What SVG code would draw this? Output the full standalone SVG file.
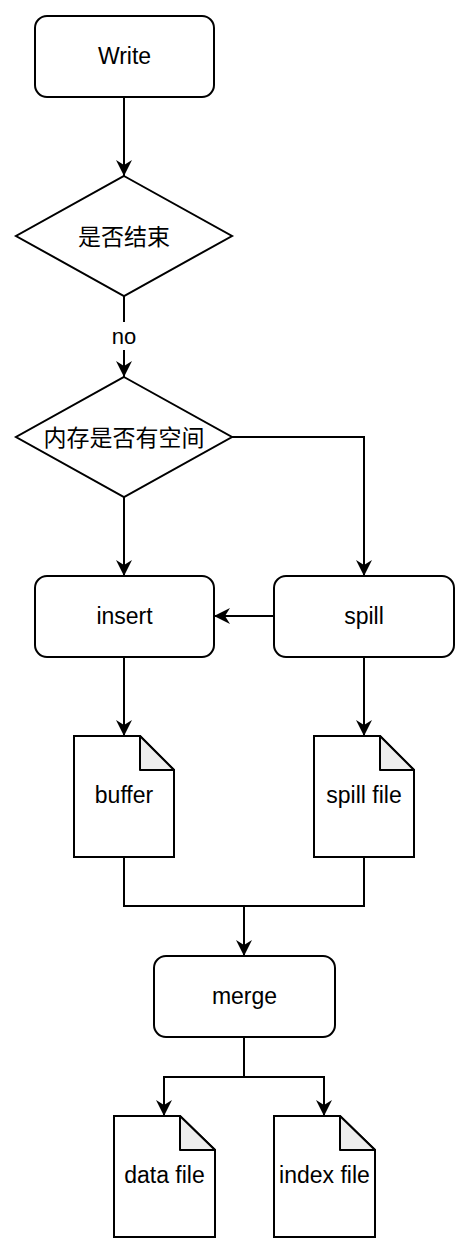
<svg xmlns="http://www.w3.org/2000/svg" width="472" height="1254" viewBox="0 0 472 1254">
<style>
.shape{fill:#ffffff;stroke:#000000;stroke-width:2}
.fold{fill:#eeeeee;stroke:#000000;stroke-width:2;stroke-linejoin:round}
.edge{fill:none;stroke:#000000;stroke-width:2}
.lbl{font-family:"Liberation Sans","Noto Sans CJK SC",Arial,sans-serif;font-size:23px;fill:#000000;text-anchor:middle}
.cjk{font-family:"Noto Sans CJK SC","Liberation Sans",sans-serif;font-size:23px;fill:#000000;text-anchor:middle}
</style>
<defs>
<marker id="arr" viewBox="0 0 16 18" refX="16" refY="9" markerWidth="16" markerHeight="18" markerUnits="userSpaceOnUse" orient="auto">
<path d="M0,1 L16,9 L0,17 L5,9 Z" fill="#000000"/>
</marker>
</defs>
<rect width="472" height="1254" fill="#ffffff"/>
<g id="connectors">
<path class="edge" d="M124,97 V176" marker-end="url(#arr)"/>
<path class="edge" d="M124,296 V377" marker-end="url(#arr)"/>
<path class="edge" d="M124,497 V576" marker-end="url(#arr)"/>
<path class="edge" d="M232,437 H364 V576" marker-end="url(#arr)"/>
<path class="edge" d="M274,616 H214" marker-end="url(#arr)"/>
<path class="edge" d="M124,657 V736" marker-end="url(#arr)"/>
<path class="edge" d="M364,657 V736" marker-end="url(#arr)"/>
<path class="edge" d="M124,857 V906 H244 V956" marker-end="url(#arr)"/>
<path class="edge" d="M364,857 V906 H244"/>
<path class="edge" d="M244,1037 V1077 H164 V1116" marker-end="url(#arr)"/>
<path class="edge" d="M244,1077 H324 V1116" marker-end="url(#arr)"/>
<rect x="110" y="322" width="28" height="28" fill="#ffffff"/>
<text class="lbl" x="124" y="344" style="font-size:22px">no</text>
</g>
<g id="write">
<rect class="shape" x="35" y="16" width="179" height="81" rx="12"/>
<text class="lbl" x="124.5" y="64">Write</text>
</g>
<g id="end-check">
<path class="shape" d="M124,176 L232,236 L124,296 L16,236 Z"/>
<text class="cjk" x="124" y="245">是否结束</text>
</g>
<g id="mem-check">
<path class="shape" d="M124,377 L232,437 L124,497 L16,437 Z"/>
<text class="cjk" x="124" y="446">内存是否有空间</text>
</g>
<g id="insert">
<rect class="shape" x="35" y="576" width="179" height="81" rx="12"/>
<text class="lbl" x="124.5" y="624">insert</text>
</g>
<g id="spill">
<rect class="shape" x="274" y="576" width="180" height="81" rx="12"/>
<text class="lbl" x="364" y="624">spill</text>
</g>
<g id="buffer">
<path class="shape" d="M74,736 H140 L174,770 V857 H74 Z"/>
<path class="fold" d="M140,736 V770 H174 Z"/>
<text class="lbl" x="124" y="803">buffer</text>
</g>
<g id="spill-file">
<path class="shape" d="M314,736 H380 L414,770 V857 H314 Z"/>
<path class="fold" d="M380,736 V770 H414 Z"/>
<text class="lbl" x="364" y="803">spill file</text>
</g>
<g id="merge">
<rect class="shape" x="154" y="956" width="181" height="81" rx="12"/>
<text class="lbl" x="244.5" y="1004">merge</text>
</g>
<g id="data-file">
<path class="shape" d="M114,1116 H180 L215,1150 V1237 H114 Z"/>
<path class="fold" d="M180,1116 V1150 H215 Z"/>
<text class="lbl" x="164.5" y="1183">data file</text>
</g>
<g id="index-file">
<path class="shape" d="M274,1116 H340 L375,1150 V1237 H274 Z"/>
<path class="fold" d="M340,1116 V1150 H375 Z"/>
<text class="lbl" x="324.5" y="1183">index file</text>
</g>
</svg>
